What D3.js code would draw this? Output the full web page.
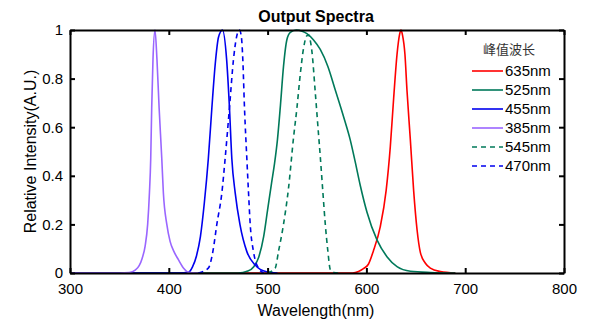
<!DOCTYPE html>
<html>
<head>
<meta charset="utf-8">
<script src="https://cdn.jsdelivr.net/npm/d3@7"></script>
<style>
  body { margin: 0; background: #fff; }
  svg { display: block; font-family: "Liberation Sans", Arial, sans-serif; }
</style>
</head>
<body>
<div id="chart"></div>
<script>
// spectra: [wavelength nm, relative intensity]
const spec635 = [[300,0],[560,0],[586,0],[592,0.006],[597,0.018],[602,0.036],[607,0.09],[614,0.19],[620,0.34],[624.2,0.52],[627.6,0.72],[631,0.9],[633.5,0.98],[635,1],[636.5,0.98],[639,0.9],[641.1,0.75],[644.5,0.547],[647.8,0.34],[651.3,0.177],[654.6,0.085],[659.7,0.04],[664.7,0.02],[675,0.006],[690,0]]
const spec525 = [[300,0],[470,0],[480,0.008],[486,0.026],[491,0.065],[496,0.15],[500,0.26],[504,0.37],[507,0.45],[510,0.55],[513,0.69],[516.1,0.85],[519.5,0.96],[523,0.99],[529,1],[535,0.995],[539.8,0.985],[546.5,0.959],[553.3,0.92],[561,0.85],[568.5,0.753],[576.9,0.643],[583.7,0.547],[588.8,0.455],[593.8,0.36],[600.6,0.25],[610.7,0.136],[620.8,0.067],[631,0.026],[644.5,0.007],[665,0.002],[690,0]]
const spec455 = [[300,0],[410,0],[420,0.003],[424,0.025],[428,0.07],[432,0.15],[436,0.29],[440,0.47],[443.6,0.68],[447,0.86],[450.3,0.97],[454.3,1],[458.5,0.88],[461.4,0.68],[463.8,0.47],[467.2,0.33],[472,0.2],[479,0.088],[487.4,0.033],[499,0.005],[510,0]]
const spec385 = [[300,0],[350,0],[360,0.002],[366,0.012],[370,0.03],[373,0.06],[376,0.11],[378.6,0.2],[380.4,0.33],[381.7,0.47],[382.7,0.68],[384,0.88],[386,1],[388,0.88],[390.2,0.68],[392.9,0.47],[394.5,0.33],[398,0.2],[401.3,0.13],[405,0.09],[409.7,0.055],[415,0.02],[420,0.003],[430,0]]
const spec545 = [[500,0],[507.7,0.02],[511,0.088],[516.1,0.2],[521.2,0.35],[526.2,0.555],[529.7,0.68],[533,0.815],[536.4,0.925],[539.5,0.975],[541.5,0.98],[543.5,0.95],[544.9,0.91],[548.2,0.746],[551.6,0.568],[553.3,0.48],[556,0.33],[558.4,0.2],[561,0.09],[563.4,0.015],[567,0.002],[572,0]]
const spec470 = [[430,0],[440,0.02],[444.6,0.088],[448.6,0.2],[453.7,0.33],[457,0.47],[461.4,0.68],[465.5,0.88],[468.5,0.97],[471.5,1],[473.5,0.97],[474.9,0.88],[476.6,0.68],[479,0.47],[480.7,0.33],[482.4,0.2],[485.7,0.088],[490.8,0.02],[496,0]]

const seriesNames = ['635nm', '525nm', '455nm', '385nm', '545nm', '470nm']
const seriesData = [spec635, spec525, spec455, spec385, spec545, spec470]
const seriesColors = ['#ff0000', '#00795a', '#0000ee', '#9a66ff', '#00795a', '#0000ee']
const seriesDashed = [false, false, false, false, true, true]

const xTicks = [300, 400, 500, 600, 700, 800]
const yTicks = [0, 0.2, 0.4, 0.6, 0.8, 1]

const width = 599, height = 332
const margin = { top: 30, right: 35, bottom: 59, left: 70 }

const svg = d3.select('#chart').append('svg')
  .attr('width', width)
  .attr('height', height)

const x = d3.scaleLinear().domain([300, 800]).range([margin.left, width - margin.right])
const y = d3.scaleLinear().domain([0, 1]).range([height - margin.bottom, margin.top])

// curves
const line = d3.line()
  .x(d => x(d[0]))
  .y(d => y(d[1]))
  .curve(d3.curveMonotoneX)

const plot = svg.append('g')
seriesData.forEach((data, i) => {
  plot.append('path')
    .datum(data)
    .attr('d', line)
    .attr('fill', 'none')
    .attr('stroke', seriesColors[i])
    .attr('stroke-width', 1.6)
    .attr('stroke-dasharray', seriesDashed[i] ? '5,4' : null)
})

// axes, ticks inward, mirrored on top/right
const tickLen = 5
svg.append('g')
  .attr('transform', `translate(0,${y(0)})`)
  .call(d3.axisBottom(x).tickValues(xTicks).tickSizeInner(-tickLen).tickSizeOuter(0).tickPadding(10))
svg.append('g')
  .attr('transform', `translate(0,${y(1)})`)
  .call(d3.axisTop(x).tickValues(xTicks).tickSizeInner(-tickLen).tickSizeOuter(0).tickFormat(''))
svg.append('g')
  .attr('transform', `translate(${x(300)},0)`)
  .call(d3.axisLeft(y).tickValues(yTicks).tickSizeInner(-tickLen).tickSizeOuter(0).tickPadding(7).tickFormat(d3.format('~g')))
svg.append('g')
  .attr('transform', `translate(${x(800)},0)`)
  .call(d3.axisRight(y).tickValues(yTicks).tickSizeInner(-tickLen).tickSizeOuter(0).tickFormat(''))

svg.selectAll('.domain').attr('stroke', '#000').attr('stroke-width', 2)
svg.selectAll('.tick line').attr('stroke', '#000').attr('stroke-width', 2)
svg.selectAll('.tick text')
  .attr('font-size', 15)
  .attr('fill', '#000')
  .attr('font-family', '"Liberation Sans", Arial, sans-serif')

// titles
svg.append('text')
  .attr('x', 316).attr('y', 22)
  .attr('text-anchor', 'middle')
  .attr('font-size', 16).attr('font-weight', 'bold')
  .text('Output Spectra')

svg.append('text')
  .attr('x', 316).attr('y', 316)
  .attr('text-anchor', 'middle')
  .attr('font-size', 16)
  .text('Wavelength(nm)')

svg.append('text')
  .attr('transform', `translate(36,${(y(0) + y(1)) / 2}) rotate(-90)`)
  .attr('text-anchor', 'middle')
  .attr('font-size', 16)
  .text('Relative Intensity(A.U.)')

// legend
const legend = svg.append('g')
legend.append('text')
  .attr('x', 509).attr('y', 54)
  .attr('text-anchor', 'middle')
  .attr('font-size', 13)
  .attr('fill', '#333')
  .attr('font-family', '"Noto Sans CJK SC", sans-serif')
  .text('峰值波长')

seriesNames.forEach((name, i) => {
  const ly = 71 + i * 19
  legend.append('line')
    .attr('x1', 472).attr('x2', 503)
    .attr('y1', ly).attr('y2', ly)
    .attr('stroke', seriesColors[i])
    .attr('stroke-width', 1.6)
    .attr('stroke-dasharray', seriesDashed[i] ? '5,4' : null)
  legend.append('text')
    .attr('x', 505).attr('y', ly)
    .attr('dy', '0.36em')
    .attr('font-size', 15)
    .text(name)
})
</script>
</body>
</html>
